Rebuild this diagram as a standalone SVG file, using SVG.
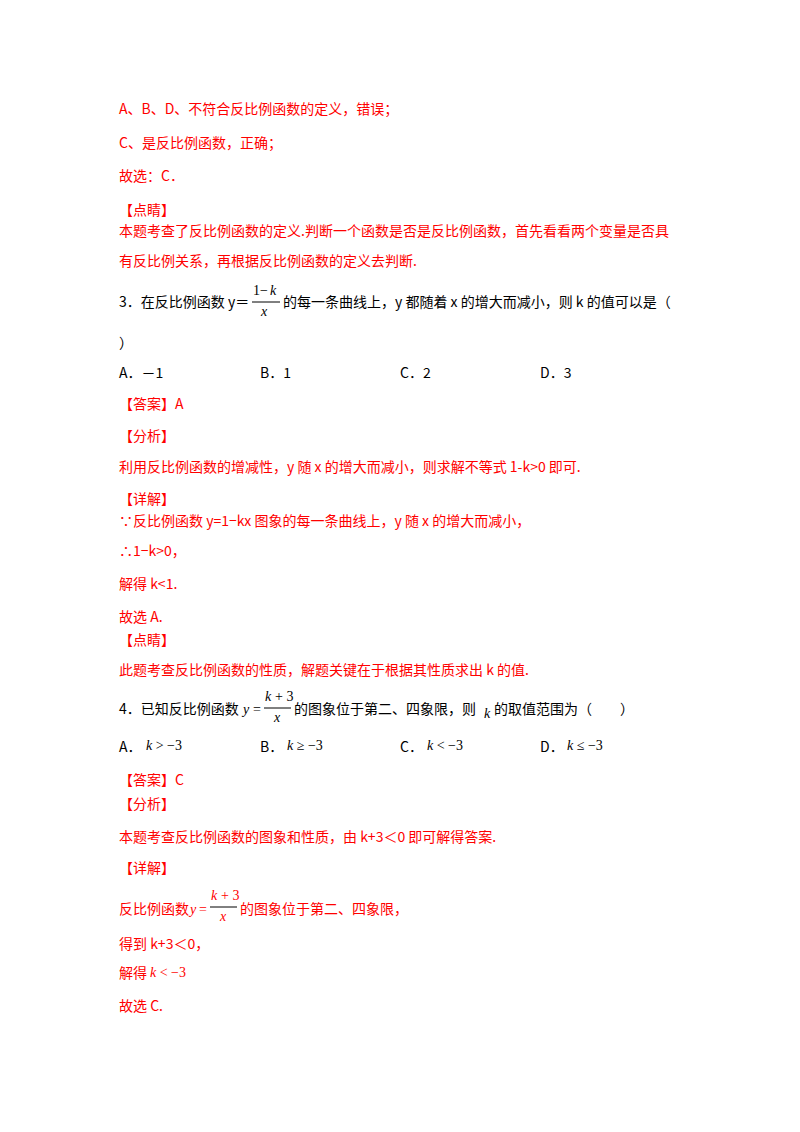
<svg xmlns="http://www.w3.org/2000/svg" width="800" height="1132" viewBox="0 0 800 1132">
<style>
text{font-family:"Noto Sans CJK SC","Noto Sans",sans-serif;font-size:14px}
.r{fill:#ff0000}
.k{fill:#000}
.m{font-family:"Liberation Serif",serif;font-style:italic;font-size:14px}
.n{font-family:"Liberation Serif",serif;font-size:14px}
line{stroke:#000;stroke-width:1}
</style>
<rect width="800" height="1132" fill="#fff"/>
<g class="r">
<text x="119" y="114" class="r">A、B、D、不符合反比例函数的定义，错误；</text>
<text x="119" y="148" class="r">C、是反比例函数，正确；</text>
<text x="119" y="181" class="r">故选：C．</text>
<text x="119" y="215" class="r">【点睛】</text>
<text x="119" y="236" class="r">本题考查了反比例函数的定义.判断一个函数是否是反比例函数，首先看看两个变量是否具</text>
<text x="119" y="266" class="r">有反比例关系，再根据反比例函数的定义去判断.</text>
</g>
<g>
<text x="119" y="307">3．在反比例函数 y＝</text>
<text x="253" y="295" class="n">1</text><text x="260" y="295" class="n">−</text><text x="270" y="295" class="m">k</text>
<line x1="252" y1="302" x2="280" y2="302"/>
<text x="261" y="316" class="m">x</text>
<text x="283" y="307">的每一条曲线上，y 都随着 x 的增大而减小，则 k 的值可以是（</text>
<text x="119" y="348">）</text>
<text x="119" y="378">A．－1</text>
<text x="260" y="378">B．1</text>
<text x="400" y="378">C．2</text>
<text x="540" y="378">D．3</text>
</g>
<g class="r">
<text x="119" y="409" class="r">【答案】A</text>
<text x="119" y="441" class="r">【分析】</text>
<text x="119" y="472" class="r">利用反比例函数的增减性，y 随 x 的增大而减小，则求解不等式 1-k&gt;0 即可.</text>
<text x="119" y="504" class="r">【详解】</text>
<text x="119" y="526" class="r">∵反比例函数 y=1−kx 图象的每一条曲线上，y 随 x 的增大而减小，</text>
<text x="119" y="556" class="r">∴1−k&gt;0，</text>
<text x="119" y="589" class="r">解得 k&lt;1.</text>
<text x="119" y="622" class="r">故选 A.</text>
<text x="119" y="645" class="r">【点睛】</text>
<text x="119" y="675" class="r">此题考查反比例函数的性质，解题关键在于根据其性质求出 k 的值.</text>
</g>
<g>
<text x="119" y="714">4．已知反比例函数</text>
<text x="243" y="714" class="m">y</text><text x="253" y="714" class="n">=</text>
<text x="265" y="701" class="m">k</text><text x="275" y="701" class="n">+ 3</text>
<line x1="264" y1="708" x2="291" y2="708"/>
<text x="274" y="722" class="m">x</text>
<text x="294" y="714">的图象位于第二、四象限，则</text>
<text x="484" y="718" class="m">k</text>
<text x="494" y="714">的取值范围为（　　）</text>
<text x="119" y="752">A．</text><text x="146" y="750" class="n"><tspan font-style="italic">k</tspan> &gt; −3</text>
<text x="260" y="752">B．</text><text x="287" y="750" class="n"><tspan font-style="italic">k</tspan> ≥ −3</text>
<text x="400" y="752">C．</text><text x="427" y="750" class="n"><tspan font-style="italic">k</tspan> &lt; −3</text>
<text x="540" y="752">D．</text><text x="567" y="750" class="n"><tspan font-style="italic">k</tspan> ≤ −3</text>
</g>
<g class="r">
<text x="119" y="785" class="r">【答案】C</text>
<text x="119" y="809" class="r">【分析】</text>
<text x="119" y="842" class="r">本题考查反比例函数的图象和性质，由 k+3＜0 即可解得答案.</text>
<text x="119" y="873" class="r">【详解】</text>
<text x="119" y="914" class="r">反比例函数</text>
<text x="190" y="914" class="m">y</text><text x="199" y="914" class="n">=</text>
<text x="211" y="900" class="m">k</text><text x="221" y="900" class="n">+ 3</text>
<line x1="210" y1="907" x2="237" y2="907"/>
<text x="220" y="921" class="m">x</text>
<text x="240" y="914" class="r">的图象位于第二、四象限，</text>
<text x="119" y="949" class="r">得到 k+3＜0，</text>
<text x="119" y="978" class="r">解得</text><text x="150" y="977" class="n"><tspan font-style="italic">k</tspan> &lt; −3</text>
<text x="119" y="1011" class="r">故选 C.</text>
</g>
</svg>
